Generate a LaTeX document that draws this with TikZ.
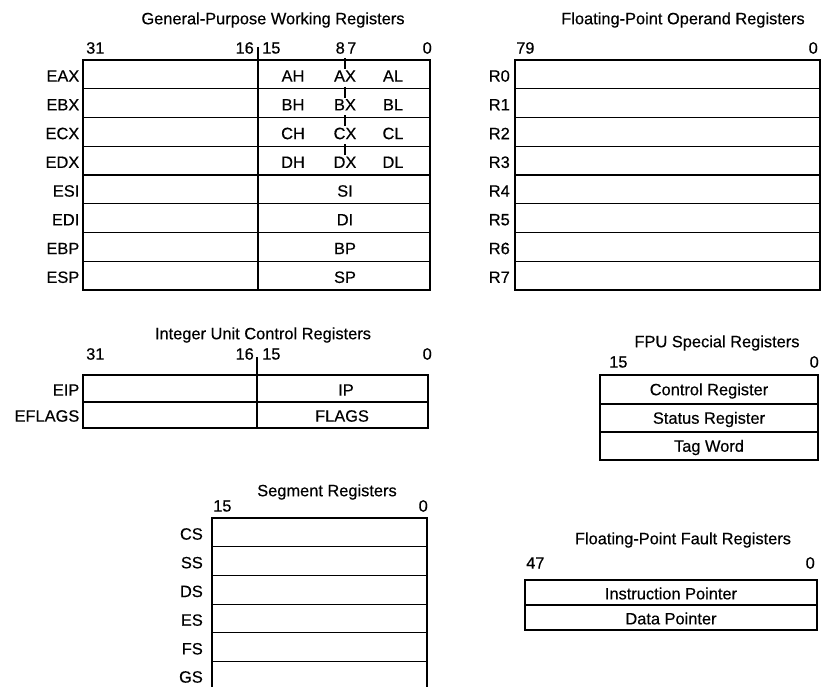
\documentclass[tikz,border=0pt]{standalone}
\usepackage{fontspec}
\setmainfont[FakeBold=0.4,AutoFakeBold=0.4]{Liberation Sans}
\begin{document}
\begin{tikzpicture}[x=1pt,y=-1pt,
  reg/.style={draw=black,line width=1.1pt},
  txt/.style={inner sep=0pt,font=\fontsize{16.4}{19}\selectfont\bfseries},
  lbl/.style={txt,anchor=east},
  bitl/.style={txt,anchor=west},
  bitr/.style={txt,anchor=east}]
\useasboundingbox (0,0) rectangle (825,687);

% ---------- General-Purpose Working Registers ----------
\node[txt] (gpt) at (273,20) {General-Purpose Working Registers};
\node[bitl] (gp31) at (86,48) {31};
\node[bitr] (gp16) at (254,48) {16};
\node[bitl] (gp15) at (262,48) {15};
\node[bitr] (gp8) at (345,48) {8};
\node[bitl] (gp7) at (347,48) {7};
\node[bitr] (gp0) at (432,48) {0};
\foreach \n [count=\i from 0] in {EAX,EBX,ECX,EDX,ESI,EDI,EBP,ESP} {
  \draw[reg] (83,{60+\i*28.75}) rectangle (430,{88.75+\i*28.75});
  \node[lbl] (gp-\n) at (79.5,{76+\i*28.75}) {\n};
}
\draw[reg] (258,47) -- (258,290);
\foreach \i in {0,1,2,3} {
  \draw[reg] (345,{58+\i*28.75}) -- (345,{69+\i*28.75});
}
\foreach \h/\x/\l [count=\i from 0] in {AH/AX/AL,BH/BX/BL,CH/CX/CL,DH/DX/DL} {
  \node[txt] (gph\i) at (293,{76+\i*28.75}) {\h};
  \node[txt] (gpx\i) at (345,{76+\i*28.75}) {\x};
  \node[txt] (gpl\i) at (393,{76+\i*28.75}) {\l};
}
\foreach \n [count=\i from 4] in {SI,DI,BP,SP} {
  \node[txt] (gpr-\n) at (345,{76+\i*28.75}) {\n};
}

% ---------- Floating-Point Operand Registers ----------
\node[txt] (fpt) at (683,20) {Floating-Point Operand Registers};
\node[bitl] (fp79) at (516,48) {79};
\node[bitr] (fp0) at (818,48) {0};
\foreach \n [count=\i from 0] in {R0,R1,R2,R3,R4,R5,R6,R7} {
  \draw[reg] (515,{60+\i*28.75}) rectangle (820,{88.75+\i*28.75});
  \node[lbl] (fp-\n) at (510,{76+\i*28.75}) {\n};
}

% ---------- Integer Unit Control Registers ----------
\node[txt] (iut) at (263,335) {Integer Unit Control Registers};
\node[bitl] (iu31) at (86,354) {31};
\node[bitr] (iu16) at (254,354) {16};
\node[bitl] (iu15) at (262,354) {15};
\node[bitr] (iu0) at (432,354) {0};
\draw[reg] (83,375) rectangle (428,402);
\draw[reg] (83,402) rectangle (428,428);
\draw[reg] (257,357) -- (257,428);
\node[lbl] (eip) at (79.5,390) {EIP};
\node[lbl] (eflags) at (79.5,416) {EFLAGS};
\node[txt] (ip) at (346,390) {IP};
\node[txt] (flags) at (342,416) {FLAGS};

% ---------- FPU Special Registers ----------
\node[txt] (fst) at (717,343) {FPU Special Registers};
\node[bitl] (fs15) at (609,362) {15};
\node[bitr] (fs0) at (819,362) {0};
\foreach \n/\a/\b in {Control Register/375/404,Status Register/404/432,Tag Word/432/460} {
  \draw[reg] (600,\a) rectangle (818,\b);
  \node[txt] (fs-\a) at (709,{(\a+\b)/2+1.5}) {\n};
}

% ---------- Segment Registers ----------
\node[txt] (sgt) at (327,492) {Segment Registers};
\node[bitl] (sg15) at (213,506) {15};
\node[bitr] (sg0) at (428,506) {0};
\foreach \n [count=\i from 0] in {CS,SS,DS,ES,FS} {
  \draw[reg] (212,{518+\i*28.7}) rectangle (427,{546.7+\i*28.7});
  \node[lbl] (sg-\n) at (203,{534+\i*28.7}) {\n};
}
\draw[reg] (212,691) -- (212,661.5) -- (427,661.5) -- (427,691);
\node[lbl] (sg-GS) at (203,677) {GS};

% ---------- Floating-Point Fault Registers ----------
\node[txt] (fft) at (683,540) {Floating-Point Fault Registers};
\node[bitl] (ff47) at (526,563) {47};
\node[bitr] (ff0) at (815,563) {0};
\draw[reg] (525,580) rectangle (817,605);
\draw[reg] (525,605) rectangle (817,630);
\node[txt] (ffi) at (671,593.5) {Instruction Pointer};
\node[txt] (ffd) at (671,618.5) {Data Pointer};
\end{tikzpicture}
\end{document}
